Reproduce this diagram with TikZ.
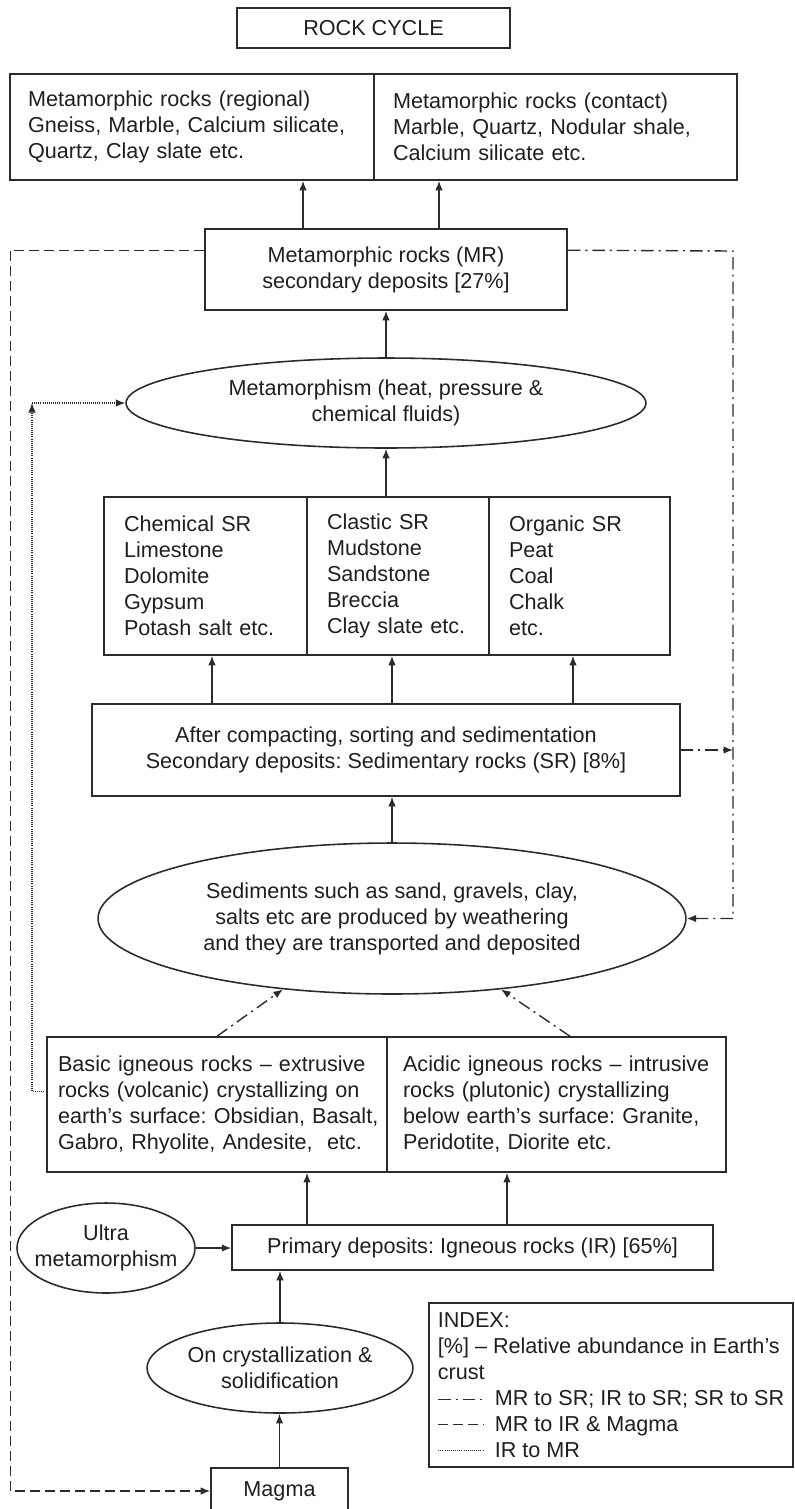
\documentclass[tikz,border=0pt]{standalone}
\usepackage{fontspec}
\setmainfont{Liberation Sans}
\usetikzlibrary{arrows.meta,positioning,calc,shapes.geometric}
\definecolor{Line}{HTML}{2B2B2B}
\frenchspacing

\begin{document}
\begin{tikzpicture}[x=0.02cm,y=-0.02cm,
  every node/.style={font=\fontsize{12.3}{14.8}\selectfont,text=black!88},
  box/.style={draw=Line,line width=0.9pt,inner sep=0pt},
  oval/.style={draw=Line,line width=0.9pt,ellipse,inner ysep=0pt,inner xsep=-0.3cm,align=center},
  arr/.style={draw=Line,line width=0.8pt,-{Latex[length=1.9mm,width=1.5mm]}},
  mrsr/.style={arr,dash pattern=on 2.5mm off 1mm on 0.4mm off 1mm},
  mrig/.style={arr,dash pattern=on 2mm off 1mm},
  irmr/.style={arr,line width=0.6pt,dash pattern=on 0.4pt off 0.8pt}]
\useasboundingbox (0,0) rectangle (795,1509);
% metamorphic part
\node[box,minimum width=5.46cm,minimum height=0.8cm] (title) at (373.5,28) {ROCK CYCLE};
\node[box,minimum width=7.28cm,minimum height=2.12cm,text width=6.56cm,align=left] (regional) at (192,127) {Metamorphic rocks (regional)\\Gneiss, Marble, Calcium silicate,\\Quartz, Clay slate etc.};
\node[box,minimum width=7.26cm,minimum height=2.12cm,text width=6.5cm,align=left] (contact) at (555.5,127) {Metamorphic rocks (contact)\\Marble, Quartz, Nodular shale,\\Calcium silicate etc.};
\node[box,minimum width=7.24cm,minimum height=1.62cm,align=center] (mr) at (386,269.5) {Metamorphic rocks (MR)\\secondary deposits [27\%]};
\node[oval,minimum width=10.4cm,minimum height=1.8cm] (meta) at (386,403) {Metamorphism (heat, pressure \&\\chemical fluids)};
% sedimentary part
\node[box,minimum width=4.06cm,minimum height=3.16cm,text width=3.26cm,align=left] (chem) at (205.5,576) {Chemical SR\\Limestone\\Dolomite\\Gypsum\\Potash salt etc.};
\node[box,minimum width=3.64cm,minimum height=3.16cm,text width=2.84cm,align=left] (clastic) at (398,576) {Clastic SR\\Mudstone\\Sandstone\\Breccia\\\mbox{Clay slate etc.}};
\node[box,minimum width=3.62cm,minimum height=3.16cm,text width=2.82cm,align=left] (organic) at (579.5,576) {Organic SR\\Peat\\Coal\\Chalk\\etc.};
\node[box,minimum width=11.76cm,minimum height=1.84cm,align=center] (srbase) at (386,750) {After compacting, sorting and sedimentation\\Secondary deposits: Sedimentary rocks (SR) [8\%]};
\node[oval,minimum width=11.76cm,minimum height=3.02cm] (sed) at (392,918.5) {Sediments such as sand, gravels, clay,\\salts etc are produced by weathering\\and they are transported and deposited};
% igneous part
\node[box,minimum width=6.8cm,minimum height=2.7cm,text width=6.36cm,align=left] (basic) at (217,1104.5) {Basic igneous rocks -- extrusive\\rocks (volcanic) crystallizing on\\\mbox{earth's surface: Obsidian, Basalt,}\\Gabro, Rhyolite, Andesite,\ \ etc.};
\node[box,minimum width=6.78cm,minimum height=2.7cm,text width=6.14cm,align=left] (acidic) at (556.5,1104.5) {\mbox{Acidic igneous rocks -- intrusive}\\rocks (plutonic) crystallizing\\below earth's surface: Granite,\\Peridotite, Diorite etc.};
\node[oval,minimum width=3.56cm,minimum height=1.8cm] (ultra) at (106,1248) {Ultra\\metamorphism};
\node[box,minimum width=9.62cm,minimum height=0.9cm] (primary) at (472.5,1247.5) {Primary deposits: Igneous rocks (IR) [65\%]};
\node[oval,minimum width=5.32cm,minimum height=1.8cm] (oncryst) at (280,1368) {On crystallization \&\\solidification};
\node[box,minimum width=2.74cm,minimum height=0.92cm] (magma) at (279.5,1491) {Magma};
\node[box,minimum width=7.28cm,minimum height=3.28cm,align=left] (index) at (611,1385) {INDEX:\\{}[\%] -- Relative abundance in Earth's\\crust\\\hspace*{1.14cm}MR to SR; IR to SR; SR to SR\\\hspace*{1.14cm}MR to IR \& Magma\\\hspace*{1.14cm}IR to MR};
% solid arrows
\path (mr.north) ++(-83,0) coordinate (m1) ++(136,0) coordinate (m2);
\foreach \c in {m1,m2} \draw[arr] (\c) -- (\c |- regional.south);
\draw[arr] (meta.north) -- (mr.south);
\draw[arr] (meta.south |- clastic.north) -- (meta.south);
\path (srbase.north) ++(-174,0) coordinate (s1) ++(180,0) coordinate (s2) ++(181,0) coordinate (s3);
\foreach \c in {s1,s2,s3} \draw[arr] (\c) -- (\c |- chem.south);
\draw[arr] (sed.north) -- (sed.north |- srbase.south);
\path (primary.north) ++(-165.5,0) coordinate (p1) ++(200,0) coordinate (p2);
\foreach \c in {p1,p2} \draw[arr] (\c) -- (\c |- basic.south);
\draw[arr] (ultra.east) -- (ultra.east -| primary.west);
\draw[arr] (oncryst.north) -- (oncryst.north |- primary.south);
\draw[arr] (magma.north) -- (magma.north |- oncryst.south);
% cycle lines
\path (mr.north east) ++(0,22) coordinate (mrr);
\path (mr.north west) ++(0,22) coordinate (mrl);
\coordinate (rc) at (733,251);
\draw[mrsr] (mrr) -- (rc) |- (sed.east);
\draw[mrsr] (srbase.east) -- (srbase.east -| rc);
\draw[mrsr] (basic.north) -- (sed.213);
\path (acidic.north) ++(13.5,0) coordinate (a1);
\draw[mrsr] (a1) -- (sed.327);
\draw[mrig] (mrl) -- ++(-194,0) |- (magma.west);
\path (basic.north west) ++(0,55) coordinate (bl);
\coordinate (dc) at (32,403);
\draw[irmr] (bl) -- (bl -| dc) -- (dc);
\draw[irmr] (dc) -- (meta.west);
% index samples
\draw[mrsr,-] ($(index.north west)+(10,97)$) -- ++(46,0);
\draw[mrig,-] ($(index.north west)+(10,122)$) -- ++(46,0);
\draw[irmr,-] ($(index.north west)+(10,148)$) -- ++(46,0);
\end{tikzpicture}
\end{document}
